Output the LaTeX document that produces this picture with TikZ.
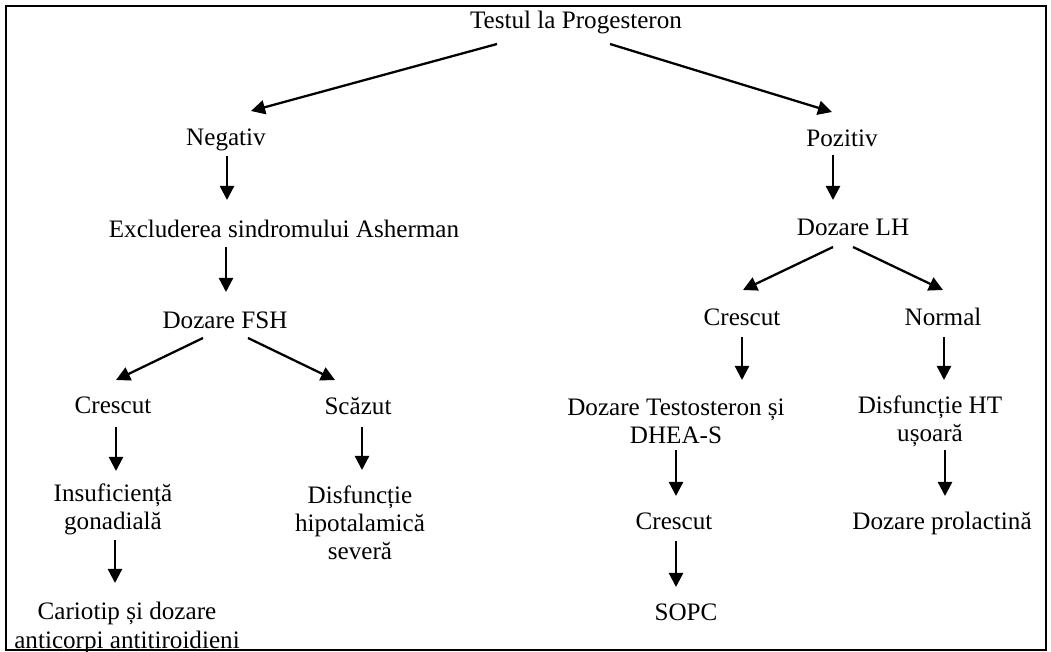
\documentclass[tikz,border=0pt]{standalone}
\usepackage{fontspec}
\setmainfont{Liberation Serif}
\usetikzlibrary{arrows.meta, calc}

\begin{document}
\begin{tikzpicture}[x=0.02cm, y=-0.02cm, >={Triangle[length=8pt, width=8pt]},
  box/.style={align=center, inner sep=0pt, font=\fontsize{14.3}{16}\selectfont},
  arr/.style={->, line width=1.3pt}]
  \useasboundingbox (0,0) rectangle (1051,652);
  \draw [line width=1.4pt] (6,6) rectangle (1046,650);

  % root
  \node [box] (test) at (576,22) {Testul la Progesteron};

  % left branch
  \node [box] (neg) at (226,140) {Negativ};
  \node [box] (excl) at (284,229) {Excluderea sindromului Asherman};
  \node [box] (fsh) at (225,320) {Dozare FSH};
  \node [box] (fshup) at (113,405) {Crescut};
  \node [box] (fshdown) at (358,406) {Scăzut};
  \node [box] (insuf) at (113,509) {Insuficiență\\gonadială};
  \node [box] (hipot) at (360,523) {Disfuncție\\hipotalamică\\severă};
  \node [box] (cario) at (127,628) {Cariotip și dozare\\anticorpi antitiroidieni};

  % right branch
  \node [box] (poz) at (842,138) {Pozitiv};
  \node [box] (lh) at (853,227) {Dozare LH};
  \node [box] (lhup) at (742,317) {Crescut};
  \node [box] (lhnorm) at (943,317) {Normal};
  \node [box] (testo) at (676,421) {Dozare Testosteron și\\DHEA-S};
  \node [box] (ht) at (930,421) {Disfuncție HT\\ușoară};
  \node [box] (testoup) at (674,521) {Crescut};
  \node [box] (prl) at (942,523) {Dozare prolactină};
  \node [box] (sopc) at (686,612) {SOPC};

  \draw [arr] ($(test)+(-79,22)$) -- ($(neg)+(25,-29)$);
  \draw [arr] ($(test)+(34,22)$) -- ($(poz)+(-10,-26)$);

  \draw [arr] ($(neg)+(1,16)$) -- ($(excl)+(-57,-29)$);
  \draw [arr] ($(excl)+(-58,18)$) -- ($(fsh)+(1,-28)$);
  \draw [arr] ($(fsh)+(-22,18)$) -- ($(fshup)+(3,-25)$);
  \draw [arr] ($(fsh)+(23,18)$) -- ($(fshdown)+(-23,-26)$);
  \draw [arr] ($(fshup)+(3,22)$) -- ($(insuf)+(3,-38)$);
  \draw [arr] ($(insuf)+(2,31)$) -- ($(cario)+(-12,-45)$);
  \draw [arr] ($(fshdown)+(4,21)$) -- ($(hipot)+(2,-53)$);

  \draw [arr] ($(poz)+(-9,17)$) -- ($(lh)+(-20,-27)$);
  \draw [arr] ($(lh)+(-20,20)$) -- ($(lhup)+(1,-27)$);
  \draw [arr] ($(lh)+(0,20)$) -- ($(lhnorm)+(0,-27)$);
  \draw [arr] ($(lhup)+(0,20)$) -- ($(testo)+(66,-41)$);
  \draw [arr] ($(lhnorm)+(1,20)$) -- ($(ht)+(14,-41)$);
  \draw [arr] ($(testo)+(0,29)$) -- ($(testoup)+(2,-25)$);
  \draw [arr] ($(ht)+(15,29)$) -- ($(prl)+(3,-27)$);
  \draw [arr] ($(testoup)+(2,20)$) -- ($(sopc)+(-10,-25)$);
\end{tikzpicture}
\end{document}
